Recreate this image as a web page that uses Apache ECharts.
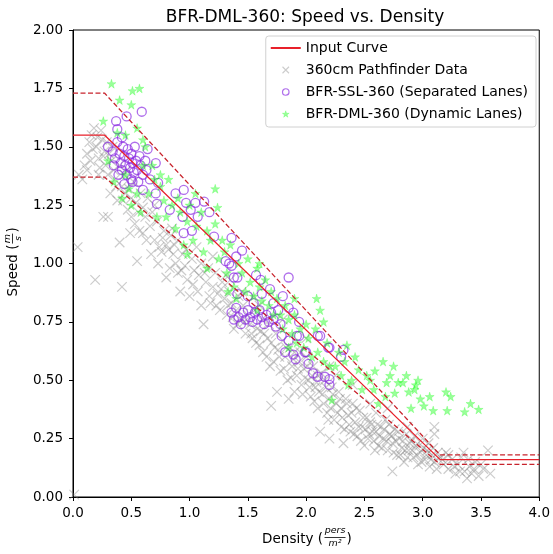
<!DOCTYPE html>
<html>
<head>
<meta charset="utf-8">
<script src="https://cdn.jsdelivr.net/npm/echarts@6/dist/echarts.min.js"></script>
<style>html,body{margin:0;padding:0;background:#fff}#c{width:553px;height:554px}</style>
</head>
<body>
<div id="c"></div>
<script>
const titleText = 'BFR-DML-360: Speed vs. Density';
const seriesNames = ['Input Curve', '360cm Pathfinder Data', 'BFR-SSL-360 (Separated Lanes)', 'BFR-DML-360 (Dynamic Lanes)'];
const xTicks = [0, 0.5, 1.0, 1.5, 2.0, 2.5, 3.0, 3.5, 4.0];
const yTicks = [0, 0.25, 0.5, 0.75, 1.0, 1.25, 1.5, 1.75, 2.0];

const inputCurve = [[0, 1.55], [0.27, 1.55], [3.15, 0.16], [4.0, 0.16]];
const upperBand = [[0, 1.73], [0.27, 1.73], [3.15, 0.18], [4.0, 0.18]];
const lowerBand = [[0, 1.37], [0.27, 1.37], [3.15, 0.14], [4.0, 0.14]];

const pathfinder = [
[0.01,0.01],[0.04,1.07],[0.05,1.38],[0.08,1.36],[0.1,1.42],[0.12,1.47],[0.14,1.52],[0.16,1.55],[0.18,1.58],[0.2,1.5],[0.22,1.45],[0.19,0.93],[0.24,1.57],[0.26,1.2],[0.27,1.48],[0.28,1.42],[0.22,1.38],[0.15,1.44],[0.25,1.53],[0.29,1.52],
[0.3,1.2],[0.31,1.47],[0.33,1.44],[0.35,1.4],[0.36,1.36],[0.38,1.27],[0.4,1.09],[0.42,0.9],[0.42,1.33],[0.44,1.38],[0.45,1.3],[0.47,1.23],[0.48,1.32],[0.49,1.13],[0.5,1.28],[0.52,1.35],[0.54,1.26],[0.55,1.01],[0.56,1.22],[0.58,1.3],[0.6,1.13],[0.6,1.24],[0.34,1.5],[0.4,1.42],[0.46,1.4],
[0.62,1.2],[0.64,1.28],[0.66,1.16],[0.68,1.22],[0.7,1.1],[0.72,1.18],[0.74,1.07],[0.76,1.05],[0.78,1.14],[0.8,0.94],[0.8,1.08],[0.82,1.06],[0.84,1.12],[0.86,1.04],[0.88,1.0],[0.9,0.96],[0.9,1.1],[0.92,0.88],[0.94,1.04],[0.96,0.99],[0.98,0.93],[1.0,0.86],[0.7,1.25],[0.85,1.15],
[1.02,1.02],[1.04,0.97],[1.06,1.07],[1.08,0.95],[1.1,0.82],[1.1,1.0],[1.12,0.74],[1.14,0.92],[1.16,0.98],[1.18,0.83],[1.2,0.9],[1.22,0.96],[1.24,0.87],[1.26,0.8],[1.28,0.92],[1.3,0.85],[1.32,0.78],[1.34,0.88],[1.36,0.83],[1.38,0.72],[1.4,0.8],[1.42,0.86],[1.44,0.76],[1.46,0.82],[1.48,0.7],[1.5,0.78],[1.2,1.03],[1.35,0.93],
[1.52,0.74],[1.54,0.68],[1.56,0.8],[1.58,0.72],[1.6,0.65],[1.62,0.76],[1.64,0.7],[1.66,0.6],[1.68,0.74],[1.7,0.66],[1.7,0.39],[1.72,0.58],[1.74,0.7],[1.76,0.63],[1.78,0.54],[1.8,0.67],[1.82,0.6],[1.84,0.5],[1.86,0.64],[1.88,0.56],[1.9,0.45],[1.9,0.62],[1.92,0.52],[1.94,0.58],[1.96,0.48],[1.98,0.55],[2.0,0.6],[1.6,0.82],[1.75,0.45],[1.85,0.42],
[2.02,0.5],[2.04,0.43],[2.06,0.56],[2.08,0.47],[2.1,0.38],[2.1,0.52],[2.12,0.28],[2.14,0.44],[2.16,0.5],[2.18,0.36],[2.2,0.42],[2.2,0.25],[2.22,0.47],[2.24,0.33],[2.26,0.4],[2.28,0.45],[2.3,0.3],[2.3,0.38],[2.32,0.23],[2.34,0.42],[2.36,0.35],[2.38,0.28],[2.4,0.4],[2.42,0.32],[2.44,0.26],[2.46,0.37],[2.48,0.3],[2.5,0.22],[2.25,0.52],
[2.52,0.34],[2.54,0.27],[2.56,0.31],[2.58,0.24],[2.6,0.36],[2.6,0.28],[2.62,0.22],[2.64,0.3],[2.66,0.25],[2.68,0.33],[2.7,0.2],[2.72,0.27],[2.74,0.11],[2.74,0.23],[2.76,0.29],[2.78,0.18],[2.8,0.25],[2.82,0.21],[2.84,0.15],[2.86,0.27],[2.88,0.2],[2.9,0.24],[2.92,0.17],[2.94,0.22],[2.96,0.14],[2.98,0.19],[3.0,0.25],[2.55,0.4],[2.7,0.38],[2.87,0.3],
[3.02,0.16],[3.04,0.2],[3.06,0.13],[3.08,0.18],[3.1,0.3],[3.1,0.15],[3.12,0.12],[3.15,0.17],[3.18,0.14],[3.2,0.19],[3.22,0.12],[3.25,0.16],[3.28,0.1],[3.3,0.14],[3.33,0.17],[3.36,0.11],[3.38,0.08],[3.4,0.13],[3.42,0.1],[3.45,0.15],[3.48,0.09],[3.52,0.12],[3.56,0.2],[3.58,0.1],[3.22,0.18],[3.35,0.19],[3.1,0.27],
[0.12,1.4],[0.17,1.49],[0.21,1.54],[0.23,1.41],[0.26,1.46],[0.3,1.38],[0.32,1.3],[0.37,1.33],[0.43,1.27],[0.5,1.2],[0.53,1.17],[0.57,1.14],[0.63,1.1],[0.67,1.04],[0.73,1.0],[0.77,1.11],[0.83,0.98],[0.87,1.08],[0.93,0.97],[0.97,1.06],[1.03,0.91],[1.07,0.88],[1.13,0.96],[1.17,0.86],[1.23,0.82],[1.27,0.89],[1.31,0.95],[1.33,0.82],[1.37,0.77],[1.41,0.74],[1.45,0.88],[1.47,0.75],[1.53,0.7],[1.57,0.66],[1.61,0.71],[1.63,0.62],[1.67,0.68],[1.69,0.56],[1.73,0.64],[1.77,0.6],[1.81,0.55],[1.83,0.64],[1.87,0.51],[1.89,0.59],[1.93,0.55],[1.95,0.62],[1.97,0.44],[1.99,0.51],[2.01,0.56],[2.03,0.47],[2.05,0.52],[2.07,0.41],[2.09,0.49],[2.11,0.45],[2.13,0.53],[2.15,0.4],[2.17,0.47],[2.19,0.33],[2.21,0.38],[2.23,0.44],[2.27,0.36],[2.29,0.42],[2.31,0.34],[2.33,0.29],[2.35,0.4],[2.37,0.31],[2.39,0.36],[2.41,0.27],[2.43,0.38],[2.45,0.3],[2.47,0.24],[2.49,0.34],[2.51,0.29],[2.53,0.25],[2.55,0.32],[2.57,0.28],[2.59,0.2],[2.61,0.31],[2.63,0.26],[2.65,0.21],[2.67,0.29],[2.69,0.24],[2.71,0.31],[2.73,0.26],[2.75,0.19],[2.77,0.24],[2.79,0.28],[2.81,0.18],[2.83,0.24],[2.85,0.2],[2.87,0.17],[2.89,0.23],[2.91,0.2],[2.93,0.26],[2.95,0.18],[2.97,0.22],[2.99,0.15],[3.01,0.21],[3.03,0.18],[3.05,0.23],[3.07,0.16],[3.09,0.21],[3.13,0.19],[3.17,0.16],[3.27,0.13],[3.32,0.11],[3.44,0.12],[3.5,0.14],[3.39,0.16],[2.4,0.48],[2.2,0.56],[2.0,0.68],[1.8,0.76],[1.55,0.86]
];

const sslData = [
[0.59,1.65],[0.46,1.63],[0.37,1.61],[0.38,1.575],[0.42,1.54],[0.30,1.50],[0.34,1.48],[0.36,1.45],[0.38,1.52],[0.4,1.47],[0.41,1.43],[0.42,1.4],[0.43,1.5],[0.44,1.46],[0.45,1.42],[0.46,1.38],[0.47,1.49],[0.48,1.45],[0.49,1.41],[0.5,1.36],[0.5,1.47],[0.51,1.43],[0.52,1.39],[0.53,1.5],[0.54,1.44],[0.55,1.4],[0.56,1.35],[0.57,1.46],[0.58,1.42],[0.6,1.38],[0.62,1.44],[0.64,1.49],[0.66,1.36],[0.39,1.38],[0.35,1.42],[0.44,1.34],[0.51,1.35],[0.6,1.315],[0.63,1.4],
[0.71,1.43],[0.73,1.345],[0.71,1.30],[0.72,1.255],[0.83,1.23],[0.88,1.30],[0.95,1.315],[0.97,1.26],[1.01,1.23],[1.07,1.20],[1.125,1.265],[1.17,1.22],[0.95,1.13],[1.02,1.14],[0.94,1.2],[1.05,1.26],[1.21,1.115],[1.36,1.11],[1.45,1.055],[1.40,1.03],[1.31,1.01],[1.36,0.99],[1.34,1.0],
[1.41,0.94],[1.38,0.94],[1.57,0.95],[1.61,0.93],[1.85,0.94],[1.41,0.87],[1.55,0.83],[1.69,0.89],[1.5,0.86],[1.62,0.87],
[1.36,0.79],[1.38,0.76],[1.4,0.81],[1.42,0.77],[1.44,0.74],[1.46,0.79],[1.48,0.76],[1.5,0.8],[1.52,0.77],[1.54,0.75],[1.56,0.79],[1.58,0.76],[1.6,0.8],[1.62,0.77],[1.64,0.74],[1.66,0.78],[1.68,0.75],[1.7,0.79],[1.72,0.76],[1.74,0.73],[1.76,0.8],[1.78,0.74],
[1.85,0.81],[1.89,0.79],[1.94,0.75],[1.79,0.69],[1.85,0.67],[1.92,0.69],[1.82,0.62],[1.89,0.61],[1.91,0.59],[2.0,0.62],[2.1,0.69],[2.12,0.69],[2.2,0.64],[2.32,0.63],[2.3,0.60],[2.02,0.57],[2.06,0.53],[2.1,0.515],[2.16,0.515],[2.2,0.48],[2.2,0.505],[1.94,0.69],[1.99,0.62],[2.19,0.64],[1.72,0.83],[1.8,0.86]
];

const dmlData = [
[0.33,1.77],[0.51,1.74],[0.57,1.75],[0.40,1.70],[0.5,1.68],[0.26,1.61],[0.6,1.53],[0.30,1.44],[0.35,1.35],[0.38,1.56],[0.45,1.55],[0.55,1.58],[0.62,1.5],[0.48,1.32],[0.42,1.28],[0.55,1.3],[0.58,1.22],[0.65,1.3],[0.68,1.42],[0.7,1.36],[0.75,1.33],[0.78,1.27],[0.8,1.2],[0.82,1.36],[0.85,1.25],[0.88,1.15],[0.9,1.28],[0.92,1.22],[0.95,1.08],[0.98,1.18],[1.0,1.25],[1.03,1.1],[1.06,1.16],[1.1,1.22],[1.12,1.05],[1.15,1.14],[1.18,1.1],[1.22,1.32],[1.24,1.24],[1.22,1.17],[1.25,1.02],[1.28,1.1],[1.3,1.05],[1.32,0.96],[1.35,1.08],[1.38,0.9],[1.42,1.0],[1.45,0.96],[1.48,0.88],[1.5,1.02],[1.52,0.92],[1.55,0.86],[1.58,0.98],[1.6,0.9],[1.62,0.84],[1.65,0.93],[1.68,0.82],[1.7,0.88],[1.72,0.78],[1.75,0.85],[1.78,0.78],[1.8,0.72],[1.82,0.82],[1.85,0.76],[1.88,0.7],[1.9,0.78],[1.92,0.66],[1.95,0.72],[1.98,0.64],[2.0,0.74],[2.02,0.68],[2.05,0.6],[2.08,0.72],[2.1,0.62],[2.12,0.8],[2.15,0.58],[2.18,0.66],[2.2,0.56],[2.22,0.415],[2.25,0.56],[2.28,0.62],[2.3,0.52],[2.33,0.58],[2.36,0.48],[2.39,0.50],[2.42,0.6],[2.45,0.545],[2.48,0.46],[2.52,0.52],[2.55,0.5],[2.58,0.46],[2.59,0.54],[2.62,0.40],[2.66,0.58],[2.69,0.49],[2.72,0.52],[2.75,0.56],[2.76,0.445],[2.79,0.49],[2.83,0.49],[2.86,0.52],[2.9,0.38],[2.93,0.46],[2.94,0.48],[2.98,0.42],[3.01,0.39],[3.06,0.43],[3.09,0.37],[3.2,0.45],[3.24,0.43],[3.21,0.37],[3.36,0.365],[3.41,0.40],[3.48,0.375],[2.88,0.45],[2.96,0.5],[2.68,0.43],
[0.72,1.2],[0.98,1.04],[1.15,0.98],[1.4,0.85],[1.58,0.8],[1.33,0.88],[1.85,0.64],[0.5,1.25],[0.45,1.38],[0.6,1.42],[0.75,1.38],[1.05,1.3],[1.6,1.0],[1.9,0.85],[2.15,0.75],[2.35,0.65],[2.09,0.85]
];

const FONT = 'DejaVu Sans';
const xMark = 'path://M0,0L10,10M10,0L0,10';
const starMark = 'path://M50,0L61.2,34.5L97.6,34.5L68.2,55.9L79.4,90.5L50,69.1L20.6,90.5L31.8,55.9L2.4,34.5L38.8,34.5Z';

const chart = echarts.init(document.getElementById('c'), null, {renderer: 'canvas'});

function lineSeries(name, data, dashed) {
  return {
    name: name, type: 'line', data: data, symbol: 'none', z: 10,
    lineStyle: dashed ? {color: '#c8232c', width: 1.3, type: [5, 2.5]} : {color: '#e8202a', width: 1.3},
    itemStyle: {color: dashed ? '#c8232c' : '#e8202a'},
    silent: true, animation: false
  };
}

const option = {
  animation: false,
  textStyle: {fontFamily: FONT},
  title: {
    text: titleText, left: 300, top: 4, textAlign: 'center',
    textStyle: {fontFamily: FONT, fontSize: 17, fontWeight: 'normal', color: '#000'}
  },
  grid: {left: 73, right: 12, top: 30, bottom: 57, show: true, borderColor: '#000', borderWidth: 1},
  legend: {
    orient: 'vertical', right: 17, top: 36,
    data: [
      {name: seriesNames[0], itemStyle: {opacity: 0}},
      {name: seriesNames[1], icon: xMark, itemStyle: {borderWidth: 1.1}},
      {name: seriesNames[2], icon: 'circle', itemStyle: {borderWidth: 1.2}},
      {name: seriesNames[3], icon: starMark, itemStyle: {borderWidth: 0.5}}
    ],
    itemWidth: 30, itemHeight: 6.5, itemGap: 8,
    padding: [5, 8, 6, 4],
    borderColor: '#d0d0d0', borderWidth: 1, borderRadius: 3,
    backgroundColor: 'rgba(255,255,255,0.8)',
    textStyle: {fontFamily: FONT, fontSize: 14, color: '#000', lineHeight: 14},
    selectedMode: false
  },
  xAxis: {
    type: 'value', min: 0, max: 4, interval: 0.5,
    axisLine: {show: true, lineStyle: {color: '#000', width: 1}},
    axisTick: {show: true, length: 4, lineStyle: {color: '#000'}},
    axisLabel: {fontFamily: FONT, fontSize: 13.5, color: '#000', margin: 9, formatter: v => v.toFixed(1)},
    splitLine: {show: false}
  },
  yAxis: {
    type: 'value', min: 0, max: 2, interval: 0.25,
    axisLine: {show: true, lineStyle: {color: '#000', width: 1}},
    axisTick: {show: true, length: 4, lineStyle: {color: '#000'}},
    axisLabel: {fontFamily: FONT, fontSize: 13.5, color: '#000', margin: 10, formatter: v => v.toFixed(2)},
    splitLine: {show: false}
  },
  series: [
    lineSeries(seriesNames[0], inputCurve, false),
    lineSeries('upper', upperBand, true),
    lineSeries('lower', lowerBand, true),
    {
      name: seriesNames[1], type: 'scatter', data: pathfinder, symbol: xMark, symbolSize: 9.5, z: 2,
      itemStyle: {color: 'rgba(0,0,0,0)', borderColor: 'rgba(128,128,128,0.5)', borderWidth: 1.2}
    },
    {
      name: seriesNames[2], type: 'scatter', data: sslData, symbol: 'circle', symbolSize: 9, z: 3,
      itemStyle: {color: 'rgba(0,0,0,0)', borderColor: 'rgba(138,43,226,0.85)', borderWidth: 1.3}
    },
    {
      name: seriesNames[3], type: 'scatter', data: dmlData, symbol: starMark, symbolSize: 9, z: 4,
      itemStyle: {color: 'rgba(0,255,0,0.5)', borderColor: 'rgba(0,255,0,0.5)', borderWidth: 0.5}
    }
  ],
  graphic: [
    {
      type: 'group', x: 0, y: 0, silent: true,
      children: [
        {type: 'text', x: 323, y: 539, style: {text: 'Density (', font: '13.5px "DejaVu Sans"', fill: '#000', align: 'right', verticalAlign: 'middle'}},
        {type: 'text', x: 335, y: 531, style: {text: 'pers', font: 'italic 9.5px "DejaVu Sans"', fill: '#000', align: 'center', verticalAlign: 'middle'}},
        {type: 'line', shape: {x1: 324.5, y1: 537.5, x2: 345.5, y2: 537.5}, style: {stroke: '#000', lineWidth: 0.8}},
        {type: 'text', x: 335, y: 544, style: {text: 'm²', font: 'italic 9.5px "DejaVu Sans"', fill: '#000', align: 'center', verticalAlign: 'middle'}},
        {type: 'text', x: 346.5, y: 539, style: {text: ')', font: '13.5px "DejaVu Sans"', fill: '#000', align: 'left', verticalAlign: 'middle'}}
      ]
    },
    {
      type: 'group', x: 13, y: 262, rotation: Math.PI / 2, silent: true,
      children: [
        {type: 'text', x: 17.4, y: 0, style: {text: 'Speed (', font: '13.5px "DejaVu Sans"', fill: '#000', align: 'right', verticalAlign: 'middle'}},
        {type: 'text', x: 23.4, y: -5.5, style: {text: 'm', font: 'italic 9.5px "DejaVu Sans"', fill: '#000', align: 'center', verticalAlign: 'middle'}},
        {type: 'line', shape: {x1: 18.4, y1: -0.5, x2: 28.4, y2: -0.5}, style: {stroke: '#000', lineWidth: 0.8}},
        {type: 'text', x: 23.4, y: 5.5, style: {text: 's', font: 'italic 9.5px "DejaVu Sans"', fill: '#000', align: 'center', verticalAlign: 'middle'}},
        {type: 'text', x: 29.4, y: 0, style: {text: ')', font: '13.5px "DejaVu Sans"', fill: '#000', align: 'left', verticalAlign: 'middle'}}
      ]
    }
  ]
};
chart.setOption(option);
</script>
</body>
</html>
